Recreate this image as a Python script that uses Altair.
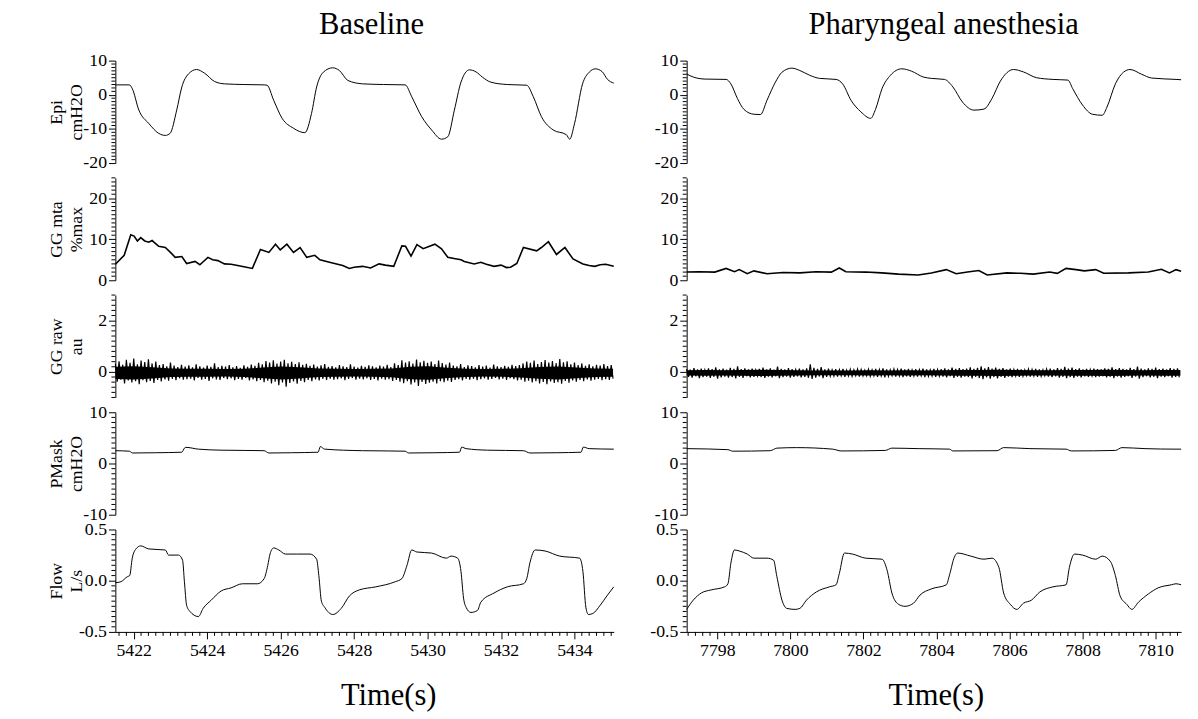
import altair as alt
import numpy as np
import pandas as pd

FONT = "Liberation Serif"

# ---------------- axes ----------------
base_xdom = [5421.5, 5435.07]
pha_xdom = [7797.16, 7810.7]
base_xticks = [5422, 5424, 5426, 5428, 5430, 5432, 5434]
pha_xticks = [7798, 7800, 7802, 7804, 7806, 7808, 7810]
col_titles = ["Baseline", "Pharyngeal anesthesia"]

# ---------------- Baseline traces ----------------
epi_b_t = [5421.5, 5421.88, 5421.96, 5422.14, 5422.41, 5422.68, 5422.86, 5422.99, 5423.17, 5423.31,
           5423.49, 5423.71, 5423.93, 5424.2, 5424.47, 5425.0, 5425.55, 5425.63, 5425.81, 5426.04,
           5426.35, 5426.66, 5426.84, 5426.98, 5427.16, 5427.42, 5427.6, 5427.83, 5428.23, 5428.8,
           5429.39, 5429.57, 5429.84, 5430.11, 5430.38, 5430.55, 5430.73, 5430.91, 5431.14, 5431.32,
           5431.49, 5431.72, 5432.17, 5432.7, 5432.88, 5433.1, 5433.42, 5433.78, 5433.87, 5434.0,
           5434.22, 5434.4, 5434.57, 5434.75, 5434.9, 5435.07]
epi_b_v = [2.9, 2.9, 1.8, -4.5, -8.4, -11.3, -11.9, -11.3, -4.5, 2.3,
           6.1, 7.4, 6.3, 3.9, 3.2, 3.0, 2.9, 2.8, -1.6, -6.9,
           -9.8, -11.1, -5.5, 2.3, 6.6, 7.9, 7.1, 4.2, 3.2, 3.0,
           2.9, -0.6, -6.4, -10.3, -13.0, -12.3, -4.5, 3.7, 7.3, 6.7,
           5.2, 3.7, 3.0, 2.8, -0.6, -6.4, -10.3, -11.7, -13.0, -8.5,
           3.2, 6.6, 7.6, 6.8, 4.5, 3.4]

mta_b_t = [5421.5, 5421.74, 5421.92, 5422.01, 5422.1, 5422.19, 5422.3, 5422.41, 5422.5, 5422.68,
           5422.86, 5423.0, 5423.13, 5423.31, 5423.44, 5423.67, 5423.8, 5424.02, 5424.15, 5424.29,
           5424.47, 5424.65, 5424.83, 5425.0, 5425.23, 5425.45, 5425.68, 5425.86, 5425.99, 5426.17,
           5426.35, 5426.53, 5426.71, 5426.93, 5427.07, 5427.33, 5427.69, 5427.87, 5428.0, 5428.23,
           5428.45, 5428.68, 5428.85, 5429.08, 5429.3, 5429.4, 5429.55, 5429.71, 5429.88, 5430.2,
           5430.38, 5430.55, 5430.72, 5430.91, 5431.0, 5431.27, 5431.45, 5431.6, 5431.81, 5432.0,
           5432.15, 5432.26, 5432.43, 5432.61, 5432.97, 5433.1, 5433.29, 5433.51, 5433.74, 5433.96,
           5434.23, 5434.4, 5434.55, 5434.7, 5434.85, 5435.07]
mta_b_v = [3.9, 6.1, 11.1, 10.8, 9.6, 10.4, 9.6, 9.3, 9.7, 8.3,
           8.0, 6.8, 5.6, 5.8, 4.1, 4.6, 3.8, 5.6, 5.0, 4.8,
           4.0, 3.9, 3.6, 3.3, 2.9, 7.5, 6.8, 8.8, 7.4, 8.8,
           6.8, 8.0, 5.6, 6.1, 5.0, 4.4, 3.6, 2.9, 3.2, 3.4,
           3.0, 4.0, 3.7, 3.4, 8.4, 8.3, 5.9, 8.7, 7.7, 8.8,
           7.7, 5.6, 5.3, 5.0, 4.6, 4.0, 4.4, 3.9, 3.4, 3.7,
           3.1, 3.2, 4.1, 8.0, 7.2, 8.0, 9.4, 6.3, 8.0, 5.2,
           4.0, 3.6, 3.4, 3.8, 3.9, 3.4]

# GG raw: successive positive / negative excursions of the noisy EMG trace
raw_b_hi = [0.32, 0.41, 0.28, 0.47, 0.35, 0.52, 0.30, 0.44, 0.38, 0.49,
            0.33, 0.40, 0.27, 0.31, 0.22, 0.36, 0.25, 0.19, 0.28, 0.21,
            0.26, 0.18, 0.30, 0.22, 0.17, 0.25, 0.20, 0.33, 0.19, 0.24,
            0.21, 0.27, 0.18, 0.23, 0.16, 0.26, 0.20, 0.29, 0.24, 0.35,
            0.30, 0.42, 0.36, 0.45, 0.33, 0.40, 0.47, 0.34, 0.39, 0.31,
            0.37, 0.28, 0.32, 0.24, 0.29, 0.21, 0.26, 0.31, 0.20, 0.23,
            0.18, 0.27, 0.22, 0.19, 0.30, 0.21, 0.17, 0.24, 0.20, 0.26,
            0.22, 0.18, 0.25, 0.21, 0.28, 0.19, 0.33, 0.27, 0.45, 0.36,
            0.41, 0.33, 0.48, 0.37, 0.43, 0.35, 0.40, 0.31, 0.44, 0.34,
            0.29, 0.36, 0.25, 0.22, 0.31, 0.19, 0.26, 0.23, 0.18, 0.27,
            0.21, 0.25, 0.17, 0.29, 0.22, 0.19, 0.24, 0.20, 0.28, 0.23,
            0.27, 0.33, 0.40, 0.35, 0.44, 0.31, 0.38, 0.46, 0.36, 0.42,
            0.34, 0.50, 0.37, 0.41, 0.30, 0.36, 0.27, 0.33, 0.24, 0.30,
            0.22, 0.28, 0.25, 0.31, 0.23, 0.27]
raw_b_lo = [-0.38, -0.30, -0.45, -0.33, -0.41, -0.36, -0.48, -0.32, -0.40, -0.35,
            -0.43, -0.31, -0.37, -0.29, -0.34, -0.27, -0.32, -0.25, -0.30, -0.28,
            -0.26, -0.33, -0.24, -0.30, -0.27, -0.35, -0.25, -0.29, -0.31, -0.24,
            -0.28, -0.25, -0.32, -0.27, -0.30, -0.24, -0.33, -0.29, -0.36, -0.31,
            -0.40, -0.34, -0.45, -0.38, -0.52, -0.41, -0.58, -0.43, -0.37, -0.46,
            -0.35, -0.40, -0.31, -0.36, -0.29, -0.33, -0.27, -0.31, -0.26, -0.30,
            -0.28, -0.25, -0.32, -0.27, -0.24, -0.30, -0.26, -0.29, -0.25, -0.31,
            -0.27, -0.33, -0.26, -0.30, -0.28, -0.35, -0.31, -0.38, -0.44, -0.36,
            -0.49, -0.41, -0.55, -0.39, -0.47, -0.42, -0.38, -0.45, -0.36, -0.40,
            -0.34, -0.39, -0.31, -0.28, -0.33, -0.27, -0.30, -0.26, -0.32, -0.28,
            -0.25, -0.30, -0.27, -0.24, -0.29, -0.26, -0.31, -0.25, -0.28, -0.33,
            -0.30, -0.38, -0.34, -0.41, -0.36, -0.45, -0.39, -0.48, -0.37, -0.43,
            -0.40, -0.46, -0.35, -0.42, -0.33, -0.38, -0.31, -0.36, -0.29, -0.34,
            -0.30, -0.27, -0.32, -0.28, -0.31, -0.26]
# dense solid core of the GG raw band (every 0.5 s)
core_b_hi = [0.20, 0.22, 0.18, 0.13, 0.12, 0.12, 0.11, 0.12, 0.17, 0.21,
             0.18, 0.13, 0.12, 0.11, 0.12, 0.13, 0.20, 0.22, 0.16, 0.12,
             0.11, 0.12, 0.14, 0.19, 0.21, 0.17, 0.13, 0.12]
core_b_lo = [-0.28, -0.30, -0.26, -0.20, -0.19, -0.19, -0.18, -0.20, -0.25, -0.30,
             -0.26, -0.20, -0.19, -0.18, -0.19, -0.21, -0.29, -0.31, -0.24, -0.20,
             -0.18, -0.19, -0.22, -0.27, -0.30, -0.25, -0.20, -0.19]

pm_b_t = [5421.5, 5421.88, 5421.97, 5422.6, 5423.31, 5423.38, 5423.42, 5423.76, 5424.38, 5425.0,
          5425.55, 5425.68, 5426.3, 5427.02, 5427.08, 5427.2, 5428.23, 5428.9, 5429.39, 5429.48,
          5430.2, 5430.87, 5430.93, 5431.05, 5431.63, 5432.61, 5432.79, 5433.5, 5434.18, 5434.24,
          5434.4, 5435.07]
pm_b_v = [2.5, 2.4, 2.05, 2.1, 2.2, 3.0, 3.15, 2.8, 2.6, 2.55,
          2.5, 2.05, 2.1, 2.2, 3.3, 2.8, 2.5, 2.45, 2.4, 2.05,
          2.1, 2.2, 3.2, 2.9, 2.6, 2.5, 2.05, 2.1, 2.2, 3.2,
          2.9, 2.8]

fl_b_t = [5421.5, 5421.65, 5421.83, 5421.89, 5421.96, 5422.06, 5422.19, 5422.41, 5422.86, 5422.95,
          5423.22, 5423.33, 5423.38, 5423.44, 5423.53, 5423.76, 5423.89, 5424.11, 5424.38, 5424.65,
          5424.96, 5425.37, 5425.55, 5425.65, 5425.71, 5425.81, 5425.95, 5426.13, 5426.44, 5426.8,
          5426.98, 5427.04, 5427.11, 5427.2, 5427.42, 5427.65, 5427.87, 5428.14, 5428.59, 5429.12,
          5429.3, 5429.44, 5429.57, 5429.71, 5430.11, 5430.51, 5430.64, 5430.82, 5430.91, 5430.98,
          5431.05, 5431.18, 5431.36, 5431.45, 5431.81, 5432.17, 5432.61, 5432.7, 5432.79, 5432.93,
          5433.2, 5433.6, 5434.14, 5434.23, 5434.31, 5434.38, 5434.5, 5434.7, 5434.9, 5435.07]
fl_b_v = [-0.02, -0.01, 0.04, 0.05, 0.22, 0.31, 0.34, 0.31, 0.30, 0.25,
          0.25, 0.20, -0.01, -0.24, -0.30, -0.35, -0.27, -0.19, -0.10, -0.07,
          -0.03, -0.03, 0.02, 0.15, 0.26, 0.32, 0.30, 0.26, 0.26, 0.26,
          0.21, 0.05, -0.20, -0.26, -0.33, -0.27, -0.15, -0.09, -0.06, -0.01,
          0.02, 0.15, 0.30, 0.28, 0.27, 0.22, 0.24, 0.22, 0.09, -0.17,
          -0.26, -0.31, -0.29, -0.21, -0.12, -0.06, -0.03, 0.02, 0.18, 0.30,
          0.29, 0.24, 0.22, 0.09, -0.26, -0.33, -0.32, -0.24, -0.14, -0.06]

# ---------------- Pharyngeal anesthesia traces ----------------
epi_p_t = [7797.16, 7797.34, 7797.66, 7798.24, 7798.37, 7798.55, 7798.73, 7799.0, 7799.18, 7799.36,
           7799.59, 7799.77, 7800.04, 7800.26, 7800.53, 7800.8, 7801.25, 7801.43, 7801.66, 7801.93,
           7802.2, 7802.33, 7802.51, 7802.74, 7803.05, 7803.32, 7803.64, 7803.86, 7804.22, 7804.45,
           7804.71, 7805.03, 7805.3, 7805.52, 7805.75, 7806.11, 7806.38, 7806.74, 7807.19, 7807.6,
           7807.73, 7808.0, 7808.27, 7808.54, 7808.67, 7808.9, 7809.12, 7809.3, 7809.62, 7809.89,
           7810.56, 7810.7]
epi_p_v = [6.1, 5.2, 4.6, 4.5, 3.2, -1.1, -4.3, -5.7, -5.8, -1.6,
           3.7, 6.6, 7.8, 7.1, 5.7, 4.8, 4.5, 3.2, -1.6, -5.0,
           -6.9, -4.3, 1.8, 5.7, 7.6, 6.9, 5.2, 4.8, 4.5, 2.3,
           -2.1, -4.5, -4.2, -1.1, 4.0, 7.4, 6.7, 5.0, 4.5, 4.3,
           1.8, -3.0, -5.7, -6.0, -3.6, 3.2, 6.6, 7.4, 6.0, 4.9,
           4.5, 4.4]

mta_p_t = [7797.16, 7797.5, 7797.93, 7798.24, 7798.47, 7798.6, 7798.82, 7799.0, 7799.36, 7799.8,
           7800.26, 7800.7, 7801.12, 7801.34, 7801.52, 7802.06, 7802.5, 7802.96, 7803.5, 7803.86,
           7804.27, 7804.54, 7804.85, 7805.16, 7805.39, 7805.93, 7806.3, 7806.65, 7807.1, 7807.31,
           7807.55, 7807.82, 7808.05, 7808.36, 7808.58, 7809.26, 7809.8, 7810.16, 7810.38, 7810.56,
           7810.7]
mta_p_v = [2.0, 2.1, 2.0, 2.9, 2.1, 2.6, 1.6, 2.3, 1.6, 1.9,
           1.8, 2.1, 2.0, 3.0, 2.1, 2.0, 1.8, 1.5, 1.3, 1.8,
           2.6, 1.6, 2.0, 2.4, 1.3, 1.8, 1.7, 1.5, 2.0, 1.7,
           2.9, 2.6, 2.3, 2.6, 1.7, 1.8, 2.0, 2.7, 1.8, 2.6,
           2.2]

raw_p_hi = [0.12, 0.09, 0.15, 0.10, 0.13, 0.08, 0.14, 0.11, 0.18, 0.10,
            0.13, 0.09, 0.16, 0.12, 0.22, 0.11, 0.14, 0.10, 0.13, 0.08,
            0.12, 0.17, 0.10, 0.14, 0.09, 0.21, 0.12, 0.10, 0.15, 0.11,
            0.09, 0.13, 0.10, 0.14, 0.30, 0.16, 0.12, 0.19, 0.10, 0.13,
            0.08, 0.11, 0.09, 0.12, 0.07, 0.10, 0.08, 0.11, 0.09, 0.07,
            0.10, 0.08, 0.12, 0.09, 0.14, 0.10, 0.08, 0.11, 0.09, 0.13,
            0.10, 0.12, 0.08, 0.11, 0.09, 0.13, 0.10, 0.08, 0.12, 0.09,
            0.11, 0.14, 0.10, 0.17, 0.12, 0.15, 0.11, 0.13, 0.18, 0.12,
            0.16, 0.22, 0.14, 0.19, 0.13, 0.17, 0.12, 0.15, 0.10, 0.13,
            0.09, 0.12, 0.10, 0.08, 0.11, 0.09, 0.12, 0.10, 0.08, 0.11,
            0.13, 0.10, 0.15, 0.12, 0.20, 0.13, 0.17, 0.11, 0.14, 0.10,
            0.12, 0.09, 0.13, 0.11, 0.10, 0.14, 0.12, 0.18, 0.11, 0.15,
            0.12, 0.10, 0.16, 0.11, 0.21, 0.13, 0.10, 0.14, 0.12, 0.17,
            0.11, 0.13, 0.10, 0.15, 0.12, 0.14]
raw_p_lo = [-0.19, -0.22, -0.17, -0.24, -0.20, -0.18, -0.23, -0.19, -0.26, -0.21,
            -0.18, -0.22, -0.20, -0.25, -0.19, -0.23, -0.17, -0.21, -0.19, -0.16,
            -0.20, -0.23, -0.18, -0.21, -0.17, -0.24, -0.20, -0.18, -0.22, -0.19,
            -0.17, -0.21, -0.19, -0.23, -0.27, -0.22, -0.18, -0.24, -0.19, -0.17,
            -0.16, -0.18, -0.15, -0.19, -0.16, -0.17, -0.15, -0.18, -0.16, -0.15,
            -0.17, -0.15, -0.19, -0.16, -0.21, -0.17, -0.15, -0.18, -0.16, -0.20,
            -0.17, -0.19, -0.16, -0.18, -0.15, -0.20, -0.17, -0.16, -0.19, -0.17,
            -0.18, -0.21, -0.17, -0.23, -0.19, -0.22, -0.18, -0.20, -0.25, -0.19,
            -0.24, -0.28, -0.21, -0.26, -0.20, -0.25, -0.19, -0.23, -0.18, -0.20,
            -0.16, -0.19, -0.17, -0.15, -0.18, -0.16, -0.19, -0.17, -0.15, -0.18,
            -0.20, -0.17, -0.22, -0.19, -0.24, -0.20, -0.23, -0.18, -0.21, -0.17,
            -0.19, -0.16, -0.20, -0.18, -0.17, -0.21, -0.19, -0.24, -0.18, -0.22,
            -0.19, -0.17, -0.23, -0.18, -0.26, -0.20, -0.17, -0.21, -0.19, -0.24,
            -0.18, -0.20, -0.17, -0.22, -0.19, -0.21]
core_p_hi = [0.06, 0.07, 0.06, 0.07, 0.08, 0.07, 0.06, 0.05, 0.05, 0.05,
             0.06, 0.05, 0.06, 0.05, 0.06, 0.07, 0.07, 0.08, 0.07, 0.06,
             0.06, 0.07, 0.07, 0.08, 0.07, 0.06, 0.07, 0.07]
core_p_lo = [-0.14, -0.15, -0.14, -0.15, -0.16, -0.15, -0.14, -0.13, -0.13, -0.13,
             -0.14, -0.13, -0.14, -0.13, -0.14, -0.15, -0.15, -0.16, -0.15, -0.14,
             -0.14, -0.15, -0.15, -0.16, -0.15, -0.14, -0.15, -0.15]

pm_p_t = [7797.16, 7798.29, 7798.42, 7799.45, 7799.63, 7800.17, 7801.16, 7801.39, 7802.6, 7802.78,
          7803.5, 7804.36, 7804.45, 7805.66, 7805.84, 7806.56, 7807.55, 7807.69, 7808.9, 7809.08,
          7809.71, 7810.56, 7810.7]
pm_p_v = [2.9, 2.7, 2.4, 2.5, 3.0, 3.1, 2.8, 2.45, 2.55, 3.0,
          2.9, 2.8, 2.45, 2.5, 3.1, 2.9, 2.8, 2.45, 2.55, 3.1,
          2.9, 2.8, 2.8]

fl_p_t = [7797.16, 7797.34, 7797.56, 7797.83, 7798.2, 7798.29, 7798.37, 7798.47, 7798.6, 7798.82,
          7799.0, 7799.36, 7799.54, 7799.63, 7799.77, 7799.9, 7800.13, 7800.26, 7800.44, 7800.71,
          7801.07, 7801.25, 7801.34, 7801.48, 7801.7, 7802.06, 7802.51, 7802.65, 7802.78, 7802.96,
          7803.14, 7803.37, 7803.55, 7803.86, 7804.27, 7804.36, 7804.49, 7804.58, 7804.94, 7805.3,
          7805.52, 7805.71, 7805.84, 7806.02, 7806.2, 7806.38, 7806.6, 7806.83, 7807.19, 7807.55,
          7807.64, 7807.78, 7808.0, 7808.36, 7808.54, 7808.76, 7808.9, 7809.03, 7809.21, 7809.35,
          7809.53, 7809.8, 7810.07, 7810.43, 7810.56, 7810.7]
fl_p_v = [-0.28, -0.19, -0.12, -0.09, -0.06, -0.03, 0.17, 0.30, 0.29, 0.26,
          0.22, 0.22, 0.20, 0.04, -0.19, -0.27, -0.28, -0.27, -0.19, -0.11,
          -0.06, -0.04, 0.07, 0.27, 0.26, 0.22, 0.21, 0.10, -0.12, -0.23,
          -0.25, -0.22, -0.14, -0.08, -0.04, 0.06, 0.23, 0.27, 0.24, 0.21,
          0.22, 0.13, -0.12, -0.23, -0.28, -0.22, -0.19, -0.11, -0.06, -0.04,
          0.13, 0.26, 0.25, 0.21, 0.24, 0.19, 0.05, -0.15, -0.23, -0.28,
          -0.21, -0.13, -0.07, -0.04, -0.03, -0.04]

# ---------------- row definitions ----------------
ROWS = [
    dict(key="epi", title=["Epi", "cmH2O"], dom=[-20, 10], major=[-20, -10, 0, 10], step=1, fmt="d",
         sw=1.0, interp="monotone"),
    dict(key="mta", title=["GG mta", "%max"], dom=[0, 25], major=[0, 10, 20], step=1, fmt="d",
         sw=1.6, interp="linear"),
    dict(key="raw", title=["GG raw", "au"], dom=[-1, 3], major=[0, 2], step=0.2, fmt="d",
         sw=1.2, interp="linear"),
    dict(key="pm", title=["PMask", "cmH2O"], dom=[-10, 10], major=[-10, 0, 10], step=1, fmt="d",
         sw=1.0, interp="monotone"),
    dict(key="fl", title=["Flow", "L/s"], dom=[-0.5, 0.5], major=[-0.5, 0.0, 0.5], step=0.05, fmt=".1f",
         sw=1.0, interp="monotone"),
]

H = 104
AX = dict(tickColor="black", tickWidth=1, domainColor="black", domainWidth=1,
          labelFont=FONT, labelFontSize=18, labelColor="black", labelOverlap=False, grid=False)


def minor_ticks(lo, hi, step, major):
    vals = np.round(np.arange(lo, hi + step / 2, step), 4)
    return [float(v) for v in vals if not any(abs(v - m) < 1e-6 for m in major)]


def panel(row, df, core, xdom, xticks, width, first_col, bottom, time_x):
    xs = alt.Scale(domain=xdom, nice=False, zero=False)
    ys = alt.Scale(domain=row["dom"], nice=False, zero=False)
    fmt = row["fmt"]
    ykw = dict(AX, values=row["major"], tickSize=7, labelPadding=2,
               labelExpr=f"(datum.value < 0 ? '-' : '') + format(abs(datum.value), '{fmt}')")
    if first_col:
        ykw.update(title=row["title"], titleFont=FONT, titleFontSize=18, titleFontWeight="normal",
                   titleColor="black", titleX=-51, titleY=H / 2, titleAngle=270, titleAlign="center",
                   titleBaseline="bottom", titleLineHeight=21)
    else:
        ykw.update(title=None)
    if bottom:
        xaxis = alt.Axis(**AX, values=xticks, tickSize=7, labelPadding=3, format="d",
                         title="Time(s)", titleFont=FONT, titleFontSize=31, titleFontWeight="normal",
                         titleColor="black", titleX=time_x, titleY=74, titleBaseline="alphabetic",
                         titleAlign="center")
        xenc = alt.X("t:Q", scale=xs, axis=xaxis)
    else:
        xenc = alt.X("t:Q", scale=xs, axis=None)

    layers = []
    if core is not None:
        layers.append(alt.Chart(core).mark_area(color="black", opacity=1).encode(
            x=alt.X("t:Q", scale=xs, axis=None), y=alt.Y("v:Q", scale=ys, axis=None), y2="lo:Q"))
    layers.append(alt.Chart(df).mark_line(color="black", strokeWidth=row["sw"],
                                          interpolate=row["interp"]).encode(
        x=xenc, y=alt.Y("v:Q", scale=ys, axis=alt.Axis(**ykw))))

    # minor ticks: short rules just left of the y axis line / below the x axis line
    ymin = pd.DataFrame({"m": minor_ticks(row["dom"][0], row["dom"][1], row["step"], row["major"])})
    layers.append(alt.Chart(ymin).mark_rule(color="black", strokeWidth=1).encode(
        y=alt.Y("m:Q", scale=ys, axis=None), x=alt.value(-4), x2=alt.value(0)))
    if bottom:
        xminor = [float(v) for v in np.round(np.arange(np.ceil(xdom[0] * 5) / 5, xdom[1], 0.2), 2)
                  if not any(abs(v - m) < 1e-6 for m in xticks)]
        layers.append(alt.Chart(pd.DataFrame({"n": xminor})).mark_rule(color="black", strokeWidth=1).encode(
            x=alt.X("n:Q", scale=xs, axis=None), y=alt.value(H), y2=alt.value(H + 4)))
    lay = alt.layer(*layers).properties(width=width, height=H).resolve_axis(x="independent", y="independent")
    return lay


def column(data, cores, xdom, xticks, width, first_col, ctitle, time_x, dx):
    panels = [panel(row, data[row["key"]], cores if row["key"] == "raw" else None, xdom, xticks, width,
                    first_col, i == len(ROWS) - 1, time_x)
              for i, row in enumerate(ROWS)]
    return alt.vconcat(*panels, spacing=15, bounds="flush",
                       title=alt.TitleParams(text=ctitle, font=FONT, fontSize=31, fontWeight="normal",
                                             color="black", anchor="middle", offset=11, dx=dx))


def tv(t, v):
    return pd.DataFrame({"t": t, "v": v})


def raw_df(t0, t1, hi, lo):
    # interleave the positive and negative excursions along time
    n = len(hi)
    step = (t1 - t0) / (n - 1)
    ts, vs = [], []
    for i in range(n):
        ts += [t0 + i * step, t0 + (i + 0.5) * step]
        vs += [hi[i], lo[i]]
    return pd.DataFrame({"t": ts, "v": vs})


def core_df(t0, t1, hi, lo):
    return pd.DataFrame({"t": np.linspace(t0, t1, len(hi)), "v": hi, "lo": lo})


base_data = {
    "epi": tv(epi_b_t, epi_b_v),
    "mta": tv(mta_b_t, mta_b_v),
    "raw": raw_df(5421.5, 5435.0, raw_b_hi, raw_b_lo),
    "pm": tv(pm_b_t, pm_b_v),
    "fl": tv(fl_b_t, fl_b_v),
}
pha_data = {
    "epi": tv(epi_p_t, epi_p_v),
    "mta": tv(mta_p_t, mta_p_v),
    "raw": raw_df(7797.16, 7810.6, raw_p_hi, raw_p_lo),
    "pm": tv(pm_p_t, pm_p_v),
    "fl": tv(fl_p_t, fl_p_v),
}
base_core = core_df(5421.5, 5435.05, core_b_hi, core_b_lo)
pha_core = core_df(7797.16, 7810.68, core_p_hi, core_p_lo)

left = column(base_data, base_core, base_xdom, base_xticks, 506, True, col_titles[0], 277, 40)
right = column(pha_data, pha_core, pha_xdom, pha_xticks, 502, False, col_titles[1], 253, 27)

chart = alt.hconcat(left, right, spacing=32).properties(
    padding={"left": 40, "top": -4, "right": 5, "bottom": 5}
).configure(font=FONT).configure_view(strokeWidth=0)

chart.save("out.html", embed_options={"renderer": "svg", "actions": False})
